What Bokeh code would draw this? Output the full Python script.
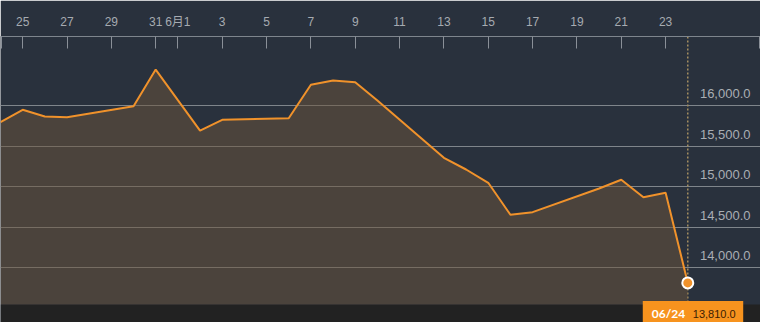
import numpy as np
import pandas as pd
from bokeh.plotting import figure
from bokeh.models import FixedTicker, CustomJSTickFormatter, Range1d, Span, BoxAnnotation, Grid, ColumnDataSource
from bokeh.core.properties import value
from bokeh.embed import file_html
from bokeh.resources import INLINE

# ---- data ----
dates = ["2016-05-24", "2016-05-25", "2016-05-26", "2016-05-27", "2016-05-30", "2016-05-31",
         "2016-06-01", "2016-06-02", "2016-06-03", "2016-06-06", "2016-06-07", "2016-06-08",
         "2016-06-09", "2016-06-10", "2016-06-13", "2016-06-14", "2016-06-15", "2016-06-16",
         "2016-06-17", "2016-06-20", "2016-06-21", "2016-06-22", "2016-06-23", "2016-06-24"]
prices = [15794, 15947, 15864, 15856, 15991, 16444,
          16067, 15691, 15823, 15843, 16256, 16309,
          16288, 16062, 15354, 15210, 15046, 14651,
          14683, 14975, 15083, 14868, 14922, 13810]
x_tick_dates = ["2016-05-25", "2016-05-27", "2016-05-29", "2016-05-31", "2016-06-01",
                "2016-06-03", "2016-06-05", "2016-06-07", "2016-06-09", "2016-06-11",
                "2016-06-13", "2016-06-15", "2016-06-17", "2016-06-19", "2016-06-21",
                "2016-06-23"]
y_ticks = [14000, 14500, 15000, 15500, 16000]
y_tick_labels = ["14,000.0", "14,500.0", "15,000.0", "15,500.0", "16,000.0"]
last_date_label = "06/24"
last_value_label = "13,810.0"

# ---- axis setup ----
x = pd.to_datetime(dates)
X_START = pd.Timestamp("2016-05-24")
X_END = X_START + pd.Timedelta(days=34.28)
Y_START, Y_END = 13321, 16852
BASELINE = 13543

BG = "#29313d"
ORANGE = "#f0922b"
BOX = "#f7931e"

p = figure(width=760, height=322, x_axis_type="datetime", x_axis_location="above",
           y_axis_location=None, output_backend="svg", toolbar_location=None,
           x_range=Range1d(X_START, X_END), y_range=Range1d(Y_START, Y_END),
           min_border_left=0, min_border_right=0, min_border_top=36, min_border_bottom=0)
p.background_fill_color = BG
p.border_fill_color = BG
p.outline_line_color = None
p.grid.visible = False

def ms(t):
    return pd.Timestamp(t).timestamp() * 1000.0

px_day = 760 / 34.28
edge = 1.2 / px_day
ticks = [ms(X_START + pd.Timedelta(days=edge))] + [ms(t) for t in x_tick_dates] + \
        [ms(X_END - pd.Timedelta(days=edge))]

ax = p.xaxis[0]
ax.ticker = FixedTicker(ticks=ticks)
ax.formatter = CustomJSTickFormatter(code="""
const d = new Date(tick);
if (d.getUTCHours() != 0 || d.getUTCMinutes() != 0) return "";
const day = d.getUTCDate();
return day == 1 ? (d.getUTCMonth() + 1) + "月1" : String(day);
""")
ax.axis_line_color = "#7e858d"
ax.major_tick_line_color = "#8a9098"
ax.major_tick_in = 12
ax.major_tick_out = 0
ax.minor_tick_line_color = None
ax.major_label_text_color = "#a6abb1"
ax.major_label_text_font = "Liberation Sans, Noto Sans CJK JP"
ax.major_label_text_font_size = "12px"
ax.major_label_standoff = 8

grid = Grid(dimension=1, ticker=FixedTicker(ticks=y_ticks), grid_line_color="#7f858b",
            grid_line_width=1)
p.add_layout(grid)

band = BoxAnnotation(top=BASELINE, fill_color="#222222", fill_alpha=1.0, line_color=None,
                     level="underlay")
p.add_layout(band)

span = Span(location=ms(x[-1]), dimension="height", line_color="#a38d5f",
            line_dash="2 2", line_width=1.5, level="underlay")
p.add_layout(span)

p.varea(x=x, y1=BASELINE, y2=prices, fill_color="#6e563b", fill_alpha=0.5)
p.line(x=x, y=prices, line_color=ORANGE, line_width=2)

lab_src = ColumnDataSource(dict(x=np.array([X_END] * len(y_ticks), dtype="datetime64[ms]"),
                                y=y_ticks, t=y_tick_labels))
p.text(x="x", y="y", text="t", source=lab_src, text_align="right", text_baseline="alphabetic",
       x_offset=-10, y_offset=-12, text_color="#a9aeb4", text_font=value("Liberation Sans"),
       text_font_size="13px")

p.scatter(x=[x[-1]], y=[prices[-1]], size=11, fill_color=ORANGE, line_color="white",
          line_width=2)

# label box
p.text(x=[x[-1]], y=[prices[-1]], text=["▲"], text_align="center", text_baseline="alphabetic",
       y_offset=21, text_color=BOX, text_font=value("DejaVu Sans"), text_font_size="10px")
p.text(x=[x[-1]], y=[prices[-1]], text=[last_date_label], text_align="left", text_baseline="middle",
       x_offset=-45, y_offset=31, text_color="white", text_font=value("Lato"),
       text_font_style="bold", text_font_size="12px",
       background_fill_color=BOX, padding=dict(left=9, right=58, top=5, bottom=6))
p.text(x=[x[-1]], y=[prices[-1]], text=[last_value_label], text_align="left", text_baseline="middle",
       x_offset=5, y_offset=31, text_color="#3b1d04", text_font=value("Liberation Sans"),
       text_font_size="11px")

open("out.html", "w").write(file_html(p, INLINE))
